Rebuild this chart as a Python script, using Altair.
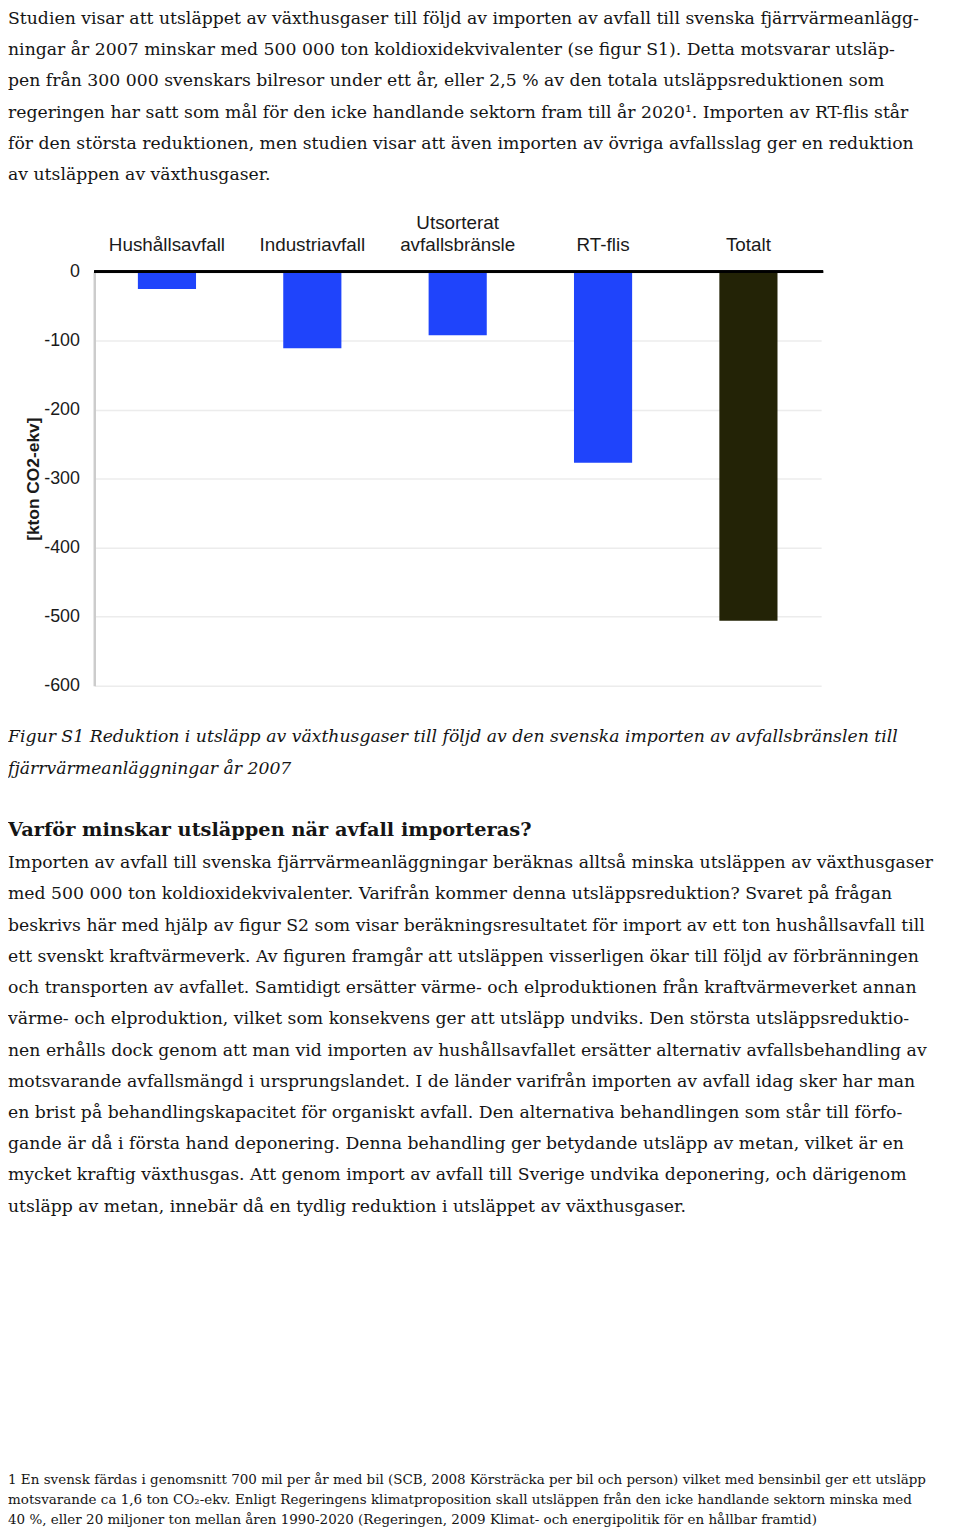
import altair as alt
import pandas as pd

# ---------------- data ----------------
kategorier = ["Hushållsavfall", "Industriavfall", "Utsorterat avfallsbränsle", "RT-flis", "Totalt"]
etiketter = ["Hushållsavfall", "Industriavfall", "Utsorterat\navfallsbränsle", "RT-flis", "Totalt"]
utslapp = [-25, -111, -92, -277, -506]  # kton CO2-ekv
farger = ["#1f44fb", "#1f44fb", "#1f44fb", "#1f44fb", "#232306"]
y_ticks = [0, -100, -200, -300, -400, -500, -600]

stycke1 = [
    "Studien visar att utsläppet av växthusgaser till följd av importen av avfall till svenska fjärrvärmeanlägg-",
    "ningar år 2007 minskar med 500 000 ton koldioxidekvivalenter (se figur S1). Detta motsvarar utsläp-",
    "pen från 300 000 svenskars bilresor under ett år, eller 2,5 % av den totala utsläppsreduktionen som",
    "regeringen har satt som mål för den icke handlande sektorn fram till år 2020¹. Importen av RT-flis står",
    "för den största reduktionen, men studien visar att även importen av övriga avfallsslag ger en reduktion",
    "av utsläppen av växthusgaser.",
]
figurtext = [
    "Figur S1 Reduktion i utsläpp av växthusgaser till följd av den svenska importen av avfallsbränslen till",
    "fjärrvärmeanläggningar år 2007",
]
rubrik = "Varför minskar utsläppen när avfall importeras?"
stycke2 = [
    "Importen av avfall till svenska fjärrvärmeanläggningar beräknas alltså minska utsläppen av växthusgaser",
    "med 500 000 ton koldioxidekvivalenter. Varifrån kommer denna utsläppsreduktion? Svaret på frågan",
    "beskrivs här med hjälp av figur S2 som visar beräkningsresultatet för import av ett ton hushållsavfall till",
    "ett svenskt kraftvärmeverk. Av figuren framgår att utsläppen visserligen ökar till följd av förbränningen",
    "och transporten av avfallet. Samtidigt ersätter värme- och elproduktionen från kraftvärmeverket annan",
    "värme- och elproduktion, vilket som konsekvens ger att utsläpp undviks. Den största utsläppsreduktio-",
    "nen erhålls dock genom att man vid importen av hushållsavfallet ersätter alternativ avfallsbehandling av",
    "motsvarande avfallsmängd i ursprungslandet. I de länder varifrån importen av avfall idag sker har man",
    "en brist på behandlingskapacitet för organiskt avfall. Den alternativa behandlingen som står till förfo-",
    "gande är då i första hand deponering. Denna behandling ger betydande utsläpp av metan, vilket är en",
    "mycket kraftig växthusgas. Att genom import av avfall till Sverige undvika deponering, och därigenom",
    "utsläpp av metan, innebär då en tydlig reduktion i utsläppet av växthusgaser.",
]
fotnot = [
    "1 En svensk färdas i genomsnitt 700 mil per år med bil (SCB, 2008 Körsträcka per bil och person) vilket med bensinbil ger ett utsläpp",
    "motsvarande ca 1,6 ton CO₂-ekv. Enligt Regeringens klimatproposition skall utsläppen från den icke handlande sektorn minska med",
    "40 %, eller 20 miljoner ton mellan åren 1990-2020 (Regeringen, 2009 Klimat- och energipolitik för en hållbar framtid)",
]

# ---------------- layout ----------------
W, H = 952, 1520
X0, X1 = 87, 820          # plot area of the bar chart (local px)
Y0, Y600 = 259.5, 677     # pixel of 0 and -600
SANS = "Liberation Sans"
SERIF = "DejaVu Serif"
BODY = 17.4
INK = "#151515"

# single-line labels get an empty first line so that every label ends on the same baseline
df = pd.DataFrame({
    "kategori": kategorier,
    "etikett": [e if "\n" in e else "\n" + e for e in etiketter],
    "varde": utslapp,
})

xscale = alt.Scale(domain=kategorier, range=[X0, X1], paddingInner=0.6, paddingOuter=0.3)
yscale = alt.Scale(domain=[-600, 0], range=[Y600, Y0], nice=False, zero=False)

bars = alt.Chart(df).mark_bar().encode(
    x=alt.X("kategori:N", scale=xscale, axis=None, sort=kategorier),
    y=alt.Y(
        "varde:Q",
        scale=yscale,
        axis=alt.Axis(
            values=y_ticks,
            labelExpr="toString(datum.value)",
            offset=-X0,
            ticks=False,
            labelPadding=15,
            labelFont=SANS,
            labelFontSize=18,
            labelColor="#1a1a1a",
            domainColor="#cccccc",
            domainWidth=2.5,
            grid=True,
            gridColor="#ececec",
            gridWidth=1.5,
            title="[kton CO2-ekv]",
            titleFont=SANS,
            titleFontSize=17.5,
            titleFontWeight="bold",
            titleColor="#1a1a1a",
            titlePadding=1,
        ),
    ),
    y2=alt.datum(0),
    color=alt.Color("kategori:N", scale=alt.Scale(domain=kategorier, range=farger), legend=None),
)

zero_rule = alt.Chart(df).mark_rule(color="#000000", strokeWidth=2.5).encode(
    y=alt.datum(0), x=alt.value(X0), x2=alt.value(X1 + 2)
)

cat_labels = alt.Chart(df).mark_text(
    font=SANS, fontSize=19, color="#1a1a1a", baseline="alphabetic", align="center",
    lineBreak="\n", lineHeight=23,
).encode(
    x=alt.X("kategori:N", scale=xscale, axis=None, sort=kategorier, bandPosition=0.5),
    y=alt.value(216),
    text="etikett:N",
)


def block(lines, y, size, lh, style="normal", weight="normal"):
    d = pd.DataFrame({"t": ["\n".join(lines)]})
    return alt.Chart(d).mark_text(
        font=SERIF, fontSize=size, fontStyle=style, fontWeight=weight, color=INK,
        align="left", baseline="alphabetic", lineBreak="\n", lineHeight=lh,
    ).encode(x=alt.value(0), y=alt.value(y), text="t:N")


t1 = block(stycke1, 9.5, BODY, 31.5)
cap = block(figurtext, 734, BODY, 32, style="italic")
head = block([rubrik], 829, 19.5, 31.5, weight="bold")
t2 = block(stycke2, 861, BODY, 31.5)
fn = block(fotnot, 1482, 13.6, 20)

chart = alt.layer(bars, zero_rule, cat_labels, t1, cap, head, t2, fn).properties(
    width=W, height=H, padding=0, autosize=alt.AutoSizeParams(type="none")
).configure_view(stroke=None)

chart.save("out.html", embed_options={"renderer": "svg", "actions": False})
